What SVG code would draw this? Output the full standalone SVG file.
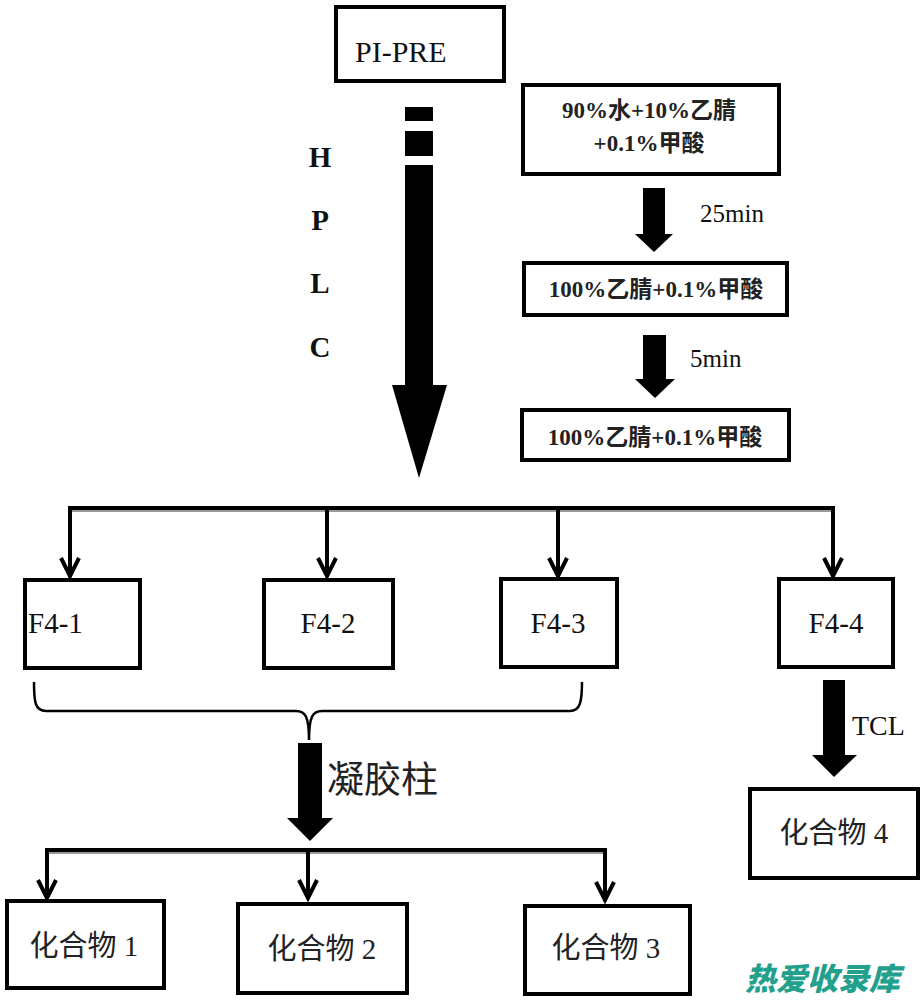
<svg xmlns="http://www.w3.org/2000/svg" width="924" height="1000" viewBox="0 0 924 1000">
<style>
.box{fill:#fff;stroke:#000;stroke-width:4}
.lat{font-family:"Liberation Serif","Noto Sans CJK SC",serif;fill:#111}
.cjk{font-family:"Liberation Serif","Noto Sans CJK SC",serif;fill:#222}
.bold{font-weight:bold}
.line{fill:none;stroke:#000;stroke-width:4}
.shadow{fill:none;stroke:#9a9a9a;stroke-width:2}
.chev{fill:none;stroke:#000;stroke-width:4;stroke-linejoin:miter}
.blk{fill:#000}
</style>
<rect width="924" height="1000" fill="#fff"/>

<g id="connectors">
  <!-- big HPLC arrow -->
  <rect class="blk" x="405" y="107" width="28" height="14"/>
  <rect class="blk" x="405" y="131" width="28" height="25"/>
  <rect class="blk" x="405" y="165" width="28" height="222"/>
  <polygon class="blk" points="392,385 447,385 419,478"/>
  <!-- right small arrows -->
  <rect class="blk" x="643" y="188" width="22" height="48"/>
  <polygon class="blk" points="635,234 673,234 654,252"/>
  <rect class="blk" x="643" y="335" width="23" height="46"/>
  <polygon class="blk" points="635,379 675,379 655,398"/>
  <!-- top distributor -->
  <path class="shadow" d="M72,511 L832,511"/>
  <path class="line" d="M70,577 L70,508 L833,508 L833,577"/>
  <path class="line" d="M327,508 L327,577"/>
  <path class="line" d="M558,508 L558,577"/>
  <path class="chev" d="M61,558 L70,576 L79,558"/>
  <path class="chev" d="M318,558 L327,576 L336,558"/>
  <path class="chev" d="M549,558 L558,576 L567,558"/>
  <path class="chev" d="M824,558 L833,576 L842,558"/>
  <!-- brace -->
  <path d="M34,682 C34,702 35,711 46,711 L296,711 C305,711 309,716 309,740 C309,716 313,711 322,711 L570,711 C580,711 582,702 582,682" fill="none" stroke="#000" stroke-width="2.5"/>
  <!-- gel column arrow -->
  <rect class="blk" x="298" y="743" width="24" height="77"/>
  <polygon class="blk" points="287,818 333,818 310,841"/>
  <!-- bottom distributor -->
  <path class="shadow" d="M49,853 L606,853"/>
  <path class="line" d="M47,899 L47,850 L605,850 L605,901"/>
  <path class="line" d="M308,850 L308,899"/>
  <path class="chev" d="M38,880 L47,898 L56,880"/>
  <path class="chev" d="M299,880 L308,898 L317,880"/>
  <path class="chev" d="M596,882 L605,900 L614,882"/>
  <!-- TCL arrow -->
  <rect class="blk" x="823" y="680" width="22" height="77"/>
  <polygon class="blk" points="812,755 857,755 834,777"/>
</g>

<g id="node-pipre">
  <rect class="box" x="336" y="7" width="168" height="74"/>
  <text class="lat" x="355" y="62" font-size="30">PI-PRE</text>
</g>
<g id="label-hplc" class="lat bold" font-size="29" text-anchor="middle">
  <text x="320" y="167">H</text>
  <text x="320" y="230">P</text>
  <text x="320" y="293">L</text>
  <text x="320" y="357">C</text>
</g>
<g id="node-solvent1">
  <rect class="box" x="523" y="85" width="256" height="89"/>
  <text class="cjk bold" x="649" y="118" font-size="23" text-anchor="middle">90%水+10%乙腈</text>
  <text class="cjk bold" x="649" y="151" font-size="23" text-anchor="middle">+0.1%甲酸</text>
</g>
<text class="lat" x="700" y="222" font-size="25">25min</text>
<g id="node-solvent2">
  <rect class="box" x="524" y="263" width="263" height="52"/>
  <text class="cjk bold" x="656" y="297" font-size="23" text-anchor="middle">100%乙腈+0.1%甲酸</text>
</g>
<text class="lat" x="690" y="367" font-size="25">5min</text>
<g id="node-solvent3">
  <rect class="box" x="522" y="410" width="267" height="50"/>
  <text class="cjk bold" x="655" y="445" font-size="23" text-anchor="middle">100%乙腈+0.1%甲酸</text>
</g>

<g id="node-f4-1">
  <rect class="box" x="25" y="580" width="115" height="88"/>
  <text class="lat" x="28" y="633" font-size="29">F4-1</text>
</g>
<g id="node-f4-2">
  <rect class="box" x="264" y="580" width="129" height="88"/>
  <text class="lat" x="328" y="633" font-size="29" text-anchor="middle">F4-2</text>
</g>
<g id="node-f4-3">
  <rect class="box" x="501" y="579" width="116" height="88"/>
  <text class="lat" x="558" y="633" font-size="29" text-anchor="middle">F4-3</text>
</g>
<g id="node-f4-4">
  <rect class="box" x="779" y="579" width="114" height="88"/>
  <text class="lat" x="836" y="633" font-size="29" text-anchor="middle">F4-4</text>
</g>

<text class="cjk" x="327" y="793" font-size="37">凝胶柱</text>
<text class="lat" x="852" y="735" font-size="28">TCL</text>

<g id="node-c1">
  <rect class="box" x="7" y="901" width="157" height="87"/>
  <text class="cjk" x="84" y="956" font-size="29" text-anchor="middle">化合物 1</text>
</g>
<g id="node-c2">
  <rect class="box" x="238" y="904" width="169" height="89"/>
  <text class="cjk" x="322" y="959" font-size="29" text-anchor="middle">化合物 2</text>
</g>
<g id="node-c3">
  <rect class="box" x="525" y="906" width="165" height="88"/>
  <text class="cjk" x="606" y="958" font-size="29" text-anchor="middle">化合物 3</text>
</g>
<g id="node-c4">
  <rect class="box" x="750" y="789" width="168" height="89"/>
  <text class="cjk" x="834" y="843" font-size="29" text-anchor="middle">化合物 4</text>
</g>

<text x="745" y="990" font-family="Noto Sans CJK SC, sans-serif" font-weight="900" font-style="italic" font-size="31" fill="#22a08c">热爱收录库</text>
</svg>
